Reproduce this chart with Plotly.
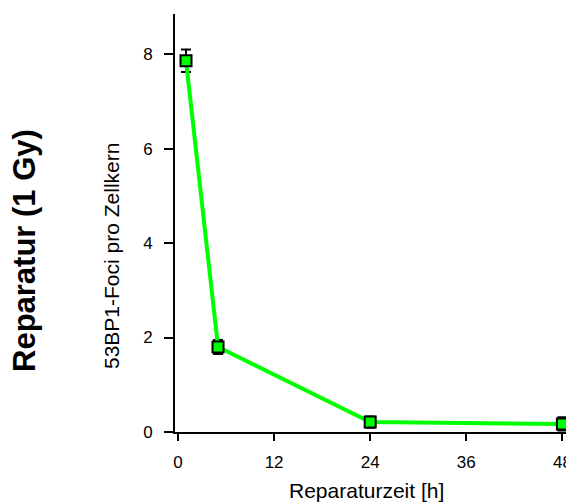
import plotly.graph_objects as go

times = [1, 5, 24, 48]
foci = [7.86, 1.80, 0.21, 0.17]
foci_err = [0.24, 0.15, 0.12, 0.14]
x_ticks = [0, 12, 24, 36, 48]
y_ticks = [0, 2, 4, 6, 8]

fig = go.Figure()
fig.add_trace(go.Scatter(
    x=times, y=foci,
    mode="lines+markers",
    line=dict(color="#00ff00", width=4),
    marker=dict(symbol="square", size=11, color="#00ff00",
                line=dict(color="black", width=2)),
    error_y=dict(type="data", array=foci_err, color="black", thickness=2, width=5),
    cliponaxis=False,
    showlegend=False,
))

font = "Liberation Sans, Arial, sans-serif"
# page body has an 8px margin, so the figure is laid out 8px smaller
W, H = 566, 496
L, R, T, B = 167, 2, 6, 72
pw, ph = W - L - R, H - T - B


def px(wx):
    return (wx - 8 - L) / pw


def py(wy):
    return (H - B - (wy - 8)) / ph


fig.update_layout(
    width=W, height=H,
    margin=dict(l=L, r=R, t=T, b=B),
    plot_bgcolor="white", paper_bgcolor="white",
    font=dict(family=font, size=17, color="black"),
    xaxis=dict(range=[-0.375, 49.2], tickvals=x_ticks, ticks="outside",
               ticklen=7, tickwidth=2, tickcolor="black", showline=True,
               linecolor="black", linewidth=2, showgrid=False, zeroline=False,
               tickfont=dict(size=17), ticklabelstandoff=7),
    yaxis=dict(range=[0, 8.85], tickvals=y_ticks, ticks="outside",
               ticklen=9, tickwidth=2, tickcolor="black", showline=True,
               linecolor="black", linewidth=2, showgrid=False, zeroline=False,
               tickfont=dict(size=17), ticklabelstandoff=8),
    annotations=[
        dict(text="Reparaturzeit [h]", xref="paper", yref="paper",
             x=px(366), y=py(490), showarrow=False,
             xanchor="center", yanchor="middle", font=dict(size=21)),
        dict(text="53BP1-Foci pro Zellkern", xref="paper", yref="paper",
             x=px(111), y=py(256), showarrow=False,
             textangle=-90, xanchor="center", yanchor="middle", font=dict(size=21)),
        dict(text="<b>Reparatur (1 Gy)</b>", xref="paper", yref="paper",
             x=px(24), y=py(251), showarrow=False,
             textangle=-90, xanchor="center", yanchor="middle", font=dict(size=31)),
    ],
)
fig.write_html("out.html")
